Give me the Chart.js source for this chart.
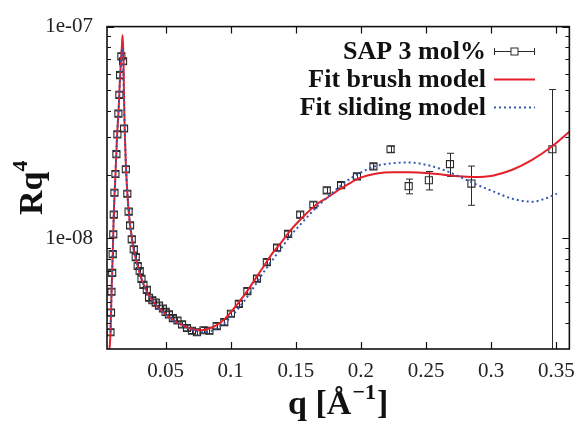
<!DOCTYPE html>
<html><head><meta charset="utf-8">
<script src="https://cdn.jsdelivr.net/npm/chart.js@4.4.0/dist/chart.umd.min.js"></script>
<style>html,body{margin:0;padding:0;background:#fff;}canvas{display:block;}</style>
</head><body>
<canvas id="c" width="585" height="425"></canvas>
<script>
// ---- data ----
const qData = [0.00767,0.00806,0.00843,0.00897,0.00935,0.00980,0.01018,0.01071,0.01147,0.01223,0.01299,0.01375,0.01451,0.01505,0.01603,0.01733,0.01809,0.01945,0.02059,0.02158,0.02272,0.02401,0.02553,0.02705,0.02857,0.03009,0.03146,0.03298,0.03556,0.03731,0.03982,0.04240,0.04491,0.04795,0.05000,0.05251,0.05555,0.05912,0.06261,0.06641,0.07021,0.07401,0.07910,0.08366,0.08921,0.09506,0.10015,0.10623,0.11277,0.12014,0.12774,0.13556,0.14407,0.15334,0.16345,0.17371,0.18473,0.19689,0.20957,0.22272,0.23663,0.25213,0.26832,0.28480,0.34696];
const rqData = [3.60e-9,4.46e-9,5.59e-9,6.86e-9,8.42e-9,1.044e-8,1.294e-8,1.641e-8,2.012e-8,2.496e-8,3.095e-8,3.880e-8,4.760e-8,5.90e-8,7.24e-8,6.86e-8,3.30e-8,2.12e-8,1.623e-8,1.337e-8,1.150e-8,9.89e-9,8.88e-9,8.15e-9,7.40e-9,7.01e-9,6.43e-9,6.03e-9,5.71e-9,5.24e-9,5.10e-9,4.97e-9,4.81e-9,4.66e-9,4.49e-9,4.37e-9,4.20e-9,4.09e-9,3.92e-9,3.77e-9,3.66e-9,3.60e-9,3.68e-9,3.66e-9,3.85e-9,4.02e-9,4.40e-9,4.90e-9,5.63e-9,6.45e-9,7.72e-9,9.03e-9,1.049e-8,1.294e-8,1.441e-8,1.685e-8,1.782e-8,1.963e-8,2.186e-8,2.634e-8,1.763e-8,1.880e-8,2.241e-8,1.813e-8,2.634e-8];
// relative (symmetric) error of each measured point
const rqErrRel = [0.03,0.03,0.03,0.03,0.03,0.03,0.03,0.03,0.03,0.03,0.03,0.03,0.03,0.03,0.03,0.03,0.03,0.03,0.03,0.03,0.03,0.03,0.03,0.03,0.03,0.03,0.03,0.03,0.03,0.03,0.03,0.03,0.03,0.03,0.03,0.03,0.03,0.03,0.03,0.03,0.03,0.03,0.03,0.03,0.03,0.03,0.03,0.03,0.03,0.03,0.03,0.03,0.03,0.03,0.03,0.03,0.03,0.03,0.03,0.033,0.08,0.10,0.125,0.21,0.915];

const qBrush = [0.0069,0.0077,0.0085,0.0094,0.0102,0.0115,0.0128,0.0140,0.0151,0.0160,0.0166,0.0170,0.01755,0.0183,0.01945,0.02059,0.02211,0.02401,0.02591,0.02819,0.03047,0.03351,0.03731,0.04111,0.04491,0.04947,0.05403,0.06011,0.06619,0.07226,0.07758,0.08290,0.08898,0.09506,0.10114,0.10722,0.11330,0.11938,0.12546,0.13153,0.13837,0.14521,0.15129,0.15889,0.16649,0.17409,0.18169,0.18929,0.19916,0.21208,0.22500,0.23716,0.25008,0.26300,0.27515,0.28579,0.30099,0.31619,0.33138,0.34658,0.36];
const rqBrush = [2.95e-9,3.6e-9,5.6e-9,8.4e-9,1.29e-8,2.01e-8,3.1e-8,4.15e-8,5.9e-8,7.3e-8,8.4e-8,9.1e-8,7.4e-8,3.88e-8,2.265e-8,1.641e-8,1.253e-8,1.011e-8,8.60e-9,7.56e-9,6.72e-9,5.97e-9,5.36e-9,4.97e-9,4.66e-9,4.42e-9,4.18e-9,3.96e-9,3.80e-9,3.70e-9,3.68e-9,3.74e-9,3.88e-9,4.14e-9,4.56e-9,5.08e-9,5.71e-9,6.50e-9,7.40e-9,8.42e-9,9.48e-9,1.078e-8,1.188e-8,1.323e-8,1.457e-8,1.554e-8,1.676e-8,1.788e-8,1.928e-8,2.023e-8,2.049e-8,2.049e-8,2.034e-8,1.997e-8,1.963e-8,1.949e-8,1.976e-8,2.108e-8,2.348e-8,2.713e-8,3.186e-8];

const qSliding = [0.0077,0.0085,0.0094,0.0102,0.0115,0.0128,0.0140,0.0151,0.0160,0.0166,0.0172,0.0183,0.01945,0.02059,0.02211,0.02401,0.02591,0.02819,0.03047,0.03351,0.03731,0.04111,0.04491,0.04947,0.05403,0.06011,0.06619,0.07226,0.07834,0.08442,0.09050,0.09658,0.10266,0.10874,0.11482,0.12090,0.12698,0.13305,0.13989,0.14673,0.15357,0.16117,0.16877,0.17637,0.18701,0.19916,0.21208,0.22500,0.23716,0.25008,0.26300,0.27515,0.28579,0.30099,0.31619,0.33138,0.34126,0.35038];
const rqSliding = [3.6e-9,5.6e-9,8.4e-9,1.29e-8,2.01e-8,3.1e-8,4.15e-8,5.9e-8,7.3e-8,7.9e-8,7.3e-8,3.88e-8,2.265e-8,1.641e-8,1.253e-8,1.011e-8,8.60e-9,7.56e-9,6.72e-9,5.97e-9,5.36e-9,4.97e-9,4.66e-9,4.42e-9,4.18e-9,3.96e-9,3.78e-9,3.66e-9,3.60e-9,3.64e-9,3.80e-9,4.05e-9,4.42e-9,4.91e-9,5.53e-9,6.30e-9,7.16e-9,8.06e-9,9.18e-9,1.044e-8,1.163e-8,1.309e-8,1.457e-8,1.606e-8,1.827e-8,2.034e-8,2.200e-8,2.265e-8,2.282e-8,2.224e-8,2.108e-8,1.963e-8,1.827e-8,1.671e-8,1.538e-8,1.489e-8,1.538e-8,1.623e-8];

const xTickValues = [0.05,0.1,0.15,0.2,0.25,0.3,0.35];
const xTickLabels = ['0.05','0.1','0.15','0.2','0.25','0.3','0.35'];
const yMajorValues = [1e-8,1e-7];
const yMajorLabels = ['1e-08','1e-07'];
const yMinorValues = [4e-9,5e-9,6e-9,7e-9,8e-9,9e-9,2e-8,3e-8,4e-8,5e-8,6e-8,7e-8,8e-8,9e-8];
const seriesNames = ['SAP 3 mol%','Fit brush model','Fit sliding model'];
const xTitle = ['q [Å','−1',']'];
const yTitle = ['Rq','4'];

// ---- styles ----
const RED = '#e3202b', BLUE = '#3557b0', PT = '#2a2a2a';
const SERIF = '"Liberation Serif", "Times New Roman", serif';

const toXY = (xs, ys) => xs.map((x,i)=>({x, y: ys[i]}));

const errorBars = {
  id:'errorBars',
  beforeDatasetsDraw(chart){
    const {ctx, chartArea:a, scales:{x,y}} = chart;
    ctx.save();
    ctx.beginPath(); ctx.rect(a.left,a.top,a.right-a.left,a.bottom-a.top); ctx.clip();
    ctx.strokeStyle = PT; ctx.lineWidth = 1;
    ctx.beginPath();
    qData.forEach((q,i)=>{
      const v = rqData[i], e = rqErrRel[i]*v;
      const px = Math.round(x.getPixelForValue(q))+0.5;
      const hi = y.getPixelForValue(v+e);
      const lo = y.getPixelForValue(Math.max(v-e, 1e-12));
      ctx.moveTo(px,hi); ctx.lineTo(px,lo);
      ctx.moveTo(px-3.5,hi); ctx.lineTo(px+3.5,hi);
      ctx.moveTo(px-3.5,lo); ctx.lineTo(px+3.5,lo);
    });
    ctx.stroke();
    ctx.restore();
  }
};

const frameTicks = {
  id:'frameTicks',
  afterDraw(chart){
    const {ctx, chartArea:a, scales:{x,y}} = chart;
    ctx.save();
    ctx.strokeStyle = '#111';
    ctx.lineWidth = 1.2;
    ctx.beginPath();
    xTickValues.forEach(v=>{
      const px = Math.round(x.getPixelForValue(v))+0.5;
      ctx.moveTo(px,a.bottom); ctx.lineTo(px,a.bottom-7);
      ctx.moveTo(px,a.top); ctx.lineTo(px,a.top+7);
    });
    yMajorValues.forEach(v=>{
      const py = Math.round(y.getPixelForValue(v))+0.5;
      ctx.moveTo(a.left,py); ctx.lineTo(a.left+7,py);
      ctx.moveTo(a.right,py); ctx.lineTo(a.right-7,py);
    });
    yMinorValues.forEach(v=>{
      const py = Math.round(y.getPixelForValue(v))+0.5;
      ctx.moveTo(a.left,py); ctx.lineTo(a.left+4,py);
      ctx.moveTo(a.right,py); ctx.lineTo(a.right-4,py);
    });
    ctx.stroke();
    ctx.lineWidth = 1.6;
    ctx.strokeRect(a.left, a.top, a.right-a.left, a.bottom-a.top);

    // axis titles
    ctx.fillStyle = '#111';
    ctx.textBaseline = 'alphabetic';
    // x title
    const cx = (a.left+a.right)/2;
    ctx.font = 'bold 34px '+SERIF;
    const w1 = ctx.measureText(xTitle[0]).width, w3 = ctx.measureText(xTitle[2]).width;
    ctx.font = 'bold 22px '+SERIF;
    const w2 = ctx.measureText(xTitle[1]).width;
    let sx = cx - (w1+w2+w3+2)/2, by = 414;
    ctx.textAlign = 'left';
    ctx.font = 'bold 34px '+SERIF; ctx.fillText(xTitle[0], sx, by);
    ctx.font = 'bold 22px '+SERIF; ctx.fillText(xTitle[1], sx+w1+1, by-15);
    ctx.font = 'bold 34px '+SERIF; ctx.fillText(xTitle[2], sx+w1+w2+2, by);
    // y title (rotated)
    ctx.save();
    ctx.translate(42, (a.top+a.bottom)/2);
    ctx.rotate(-Math.PI/2);
    ctx.font = 'bold 34px '+SERIF;
    const r1 = ctx.measureText(yTitle[0]).width;
    ctx.font = 'bold 22px '+SERIF;
    const r2 = ctx.measureText(yTitle[1]).width;
    const sy = -(r1+r2)/2;
    ctx.font = 'bold 34px '+SERIF; ctx.fillText(yTitle[0], sy, 0);
    ctx.font = 'bold 22px '+SERIF; ctx.fillText(yTitle[1], sy+r1, -15);
    ctx.restore();

    // legend
    const rows = [59, 87, 115];
    const tx = 486, s0 = 494, s1 = 535;
    ctx.font = 'bold 26px '+SERIF;
    ctx.textAlign = 'right';
    seriesNames.forEach((n,i)=> ctx.fillText(n, tx, rows[i]));
    // sample 1: error bar with square
    let yy = rows[0]-7.5;
    ctx.strokeStyle = PT; ctx.lineWidth = 1;
    ctx.beginPath();
    ctx.moveTo(s0,yy); ctx.lineTo(s1,yy);
    ctx.moveTo(s0+0.5,yy-3.5); ctx.lineTo(s0+0.5,yy+3.5);
    ctx.moveTo(s1-0.5,yy-3.5); ctx.lineTo(s1-0.5,yy+3.5);
    ctx.stroke();
    const mx = (s0+s1)/2;
    ctx.fillStyle='#fff'; ctx.fillRect(mx-3.5,yy-3.5,7,7);
    ctx.strokeRect(mx-3.5,yy-3.5,7,7);
    // sample 2: red
    yy = rows[1]-7.5;
    ctx.strokeStyle = RED; ctx.lineWidth = 2;
    ctx.beginPath(); ctx.moveTo(s0,yy); ctx.lineTo(s1,yy); ctx.stroke();
    // sample 3: blue dotted
    yy = rows[2]-7.5;
    ctx.strokeStyle = BLUE; ctx.setLineDash([2,3]);
    ctx.beginPath(); ctx.moveTo(s0,yy); ctx.lineTo(s1,yy); ctx.stroke();
    ctx.restore();
  }
};

new Chart(document.getElementById('c'), {
  type:'scatter',
  data:{
    datasets:[
      { label: seriesNames[2], data: toXY(qSliding, rqSliding), showLine:true, order:0,
        borderColor: BLUE, borderWidth: 2, borderDash:[2,3], pointRadius:0, fill:false,
        cubicInterpolationMode:'monotone' },
      { label: seriesNames[1], data: toXY(qBrush, rqBrush), showLine:true, order:1,
        borderColor: RED, borderWidth: 2, pointRadius:0, fill:false,
        cubicInterpolationMode:'monotone' },
      { label: seriesNames[0], data: toXY(qData, rqData), showLine:false, order:2,
        pointStyle:'rect', pointRadius:5, pointBorderColor: PT, pointBackgroundColor:'rgba(0,0,0,0)',
        pointBorderWidth:1.1, pointHoverRadius:5 }
    ]
  },
  options:{
    responsive:false, devicePixelRatio:1, animation:false,
    layout:{ padding:{ top:22, right:10, left:0, bottom:0 } },
    plugins:{ legend:{display:false}, tooltip:{enabled:false}, title:{display:false} },
    scales:{
      x:{ type:'linear', min:0.005, max:0.36,
        grid:{ display:false, drawTicks:false }, border:{ display:false },
        afterBuildTicks: s => { s.ticks = xTickValues.map(v=>({value:v})); },
        afterFit: s => { s.height = 76; },
        ticks:{ autoSkip:false, maxRotation:0, padding:10, color:'#222',
          font:{ family:SERIF, size:21 },
          callback: v => { const i = xTickValues.findIndex(t=>Math.abs(t-v)<1e-9); return i<0?'':xTickLabels[i]; } }
      },
      y:{ type:'logarithmic', min:3e-9, max:1e-7,
        grid:{ display:false, drawTicks:false }, border:{ display:false },
        afterBuildTicks: s => { s.ticks = yMajorValues.map(v=>({value:v})); },
        afterFit: s => { s.width = 107; },
        ticks:{ autoSkip:false, padding:14, color:'#222',
          font:{ family:SERIF, size:21 },
          callback: v => { const i = yMajorValues.findIndex(t=>Math.abs(t-v)/t<1e-6); return i<0?'':yMajorLabels[i]; } }
      }
    }
  },
  plugins:[errorBars, frameTicks]
});
</script>
</body></html>
